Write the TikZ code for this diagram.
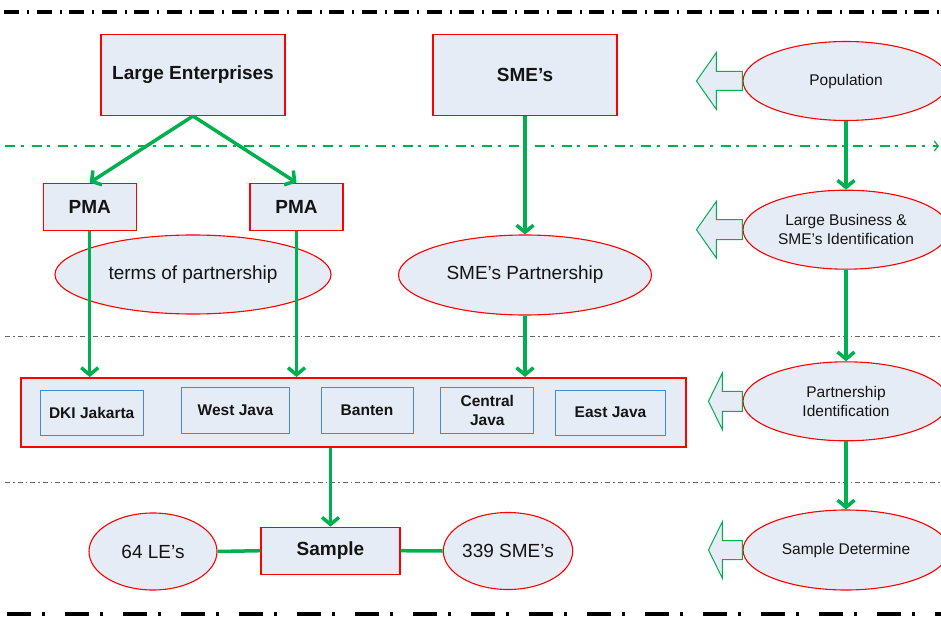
\documentclass[tikz,border=0pt]{standalone}
\usepackage{fontspec}
\setmainfont{Liberation Sans}
\usetikzlibrary{arrows.meta,shapes.geometric,calc}
\definecolor{fillc}{RGB}{230,236,245}
\definecolor{greenc}{RGB}{0,176,80}
\definecolor{bluec}{RGB}{70,140,205}
\definecolor{grayc}{RGB}{100,100,100}
\definecolor{txtc}{RGB}{20,20,20}
\begin{document}
\begin{tikzpicture}[x=1pt,y=-1pt,
 redbox/.style={draw=red, line width=1.1pt, fill=fillc, inner sep=0pt, font=\fontsize{19}{22}\selectfont\bfseries, text=txtc},
 bluebox/.style={draw=bluec, line width=1pt, fill=fillc, inner sep=0pt, align=center, font=\fontsize{15.5}{19}\selectfont\bfseries, text=txtc},
 oval/.style={ellipse, draw=red, line width=1.1pt, fill=fillc, inner sep=0pt, align=center, font=\fontsize{19}{22}\selectfont, text=txtc},
 roval/.style={oval, minimum width=206pt, minimum height=79pt, font=\fontsize{15.5}{18.5}\selectfont},
 flow/.style={draw=greenc, line width=3.5pt, -{Straight Barb[length=7pt,width=17pt]}},
 link/.style={draw=greenc, line width=3.5pt},
 barrow/.style={draw=greenc, line width=1pt, fill=fillc, line join=miter},
]
\useasboundingbox (0,0) rectangle (941,617);
\clip (0,0) rectangle (941,617);

% separator lines
\draw[line width=4pt, dash pattern=on 15pt off 8pt on 2pt off 7.5pt] (4,12) -- (941,12);
\draw[line width=4pt, dash pattern=on 24pt off 11pt on 3pt off 20pt] (7,614) -- (941,614);
\draw[greenc, line width=2pt, dash pattern=on 10pt off 5.5pt on 3pt off 8pt,
      -{Straight Barb[length=4pt,width=10pt,line width=1.2pt]}] (5,146) -- (939,146);
\draw[grayc, line width=1pt, dash pattern=on 5pt off 3pt on 1.5pt off 3pt] (5,336) -- (941,336);
\draw[grayc, line width=1pt, dash pattern=on 5pt off 3pt on 1.5pt off 3pt] (5,482) -- (941,482);

% left / middle column
\node[redbox, minimum width=184pt, minimum height=81pt] (le) at (193,75) {Large Enterprises};
\node[redbox, minimum width=184pt, minimum height=81pt] (sme) at (525,75) {SME’s};
\node[redbox, minimum width=93pt, minimum height=47pt] (pma1) at (89.7,206.7) {PMA};
\node[redbox, minimum width=93pt, minimum height=47pt] (pma2) at (296.5,206.7) {PMA};
\node[oval, minimum width=276pt, minimum height=79pt] (terms) at (193,274.5) {terms of partnership};
\node[oval, minimum width=253pt, minimum height=80pt] (smep) at (525,275) {SME’s Partnership};

\node[draw=red, line width=2pt, fill=fillc, minimum width=665pt, minimum height=69pt, inner sep=0pt] (region) at (353.5,412.5) {};
\node[bluebox, minimum width=103pt, minimum height=45pt] (dki) at (91.7,412.5) {DKI Jakarta};
\node[bluebox, minimum width=108pt, minimum height=46pt] (west) at (235.5,410.3) {West Java};
\node[bluebox, minimum width=92pt, minimum height=46pt] (banten) at (367,410.3) {Banten};
\node[bluebox, minimum width=93pt, minimum height=46pt] (central) at (487.3,410.3) {Central\\Java};
\node[bluebox, minimum width=110pt, minimum height=45pt] (east) at (610.5,412.5) {East Java};

\node[redbox, minimum width=139pt, minimum height=47pt] (sample) at (330.5,550.7) {Sample};
\node[oval, minimum width=128pt, minimum height=77pt] (le64) at (153,551.5) {64 LE’s};
\node[oval, minimum width=124pt, minimum height=77pt] (sme339) at (508,551) {339 SME’s};

% connectors
\draw[flow] (le.south) -- (pma1.north);
\draw[flow] (le.south) -- (pma2.north);
\draw[flow] (pma1.south) -- (pma1.south |- region.north);
\draw[flow] (pma2.south) -- (pma2.south |- region.north);
\draw[flow] (sme.south) -- (smep.north);
\draw[flow] (smep.south) -- (smep.south |- region.north);
\draw[flow] (sample.north |- region.south) -- (sample.north);
\draw[link] (le64.east) -- (sample.west);
\draw[link] (sample.east) -- (sme339.west);

% right column
\node[roval] (pop) at (846,81) {Population};
\node[roval] (lb) at (846,229.7) {Large Business \&\\SME’s Identification};
\node[roval] (pi) at (846,401.3) {Partnership\\Identification};
\node[roval, minimum height=80pt] (sd) at (846,550) {Sample Determine};

\draw[flow] (pop.south) -- (lb.north);
\draw[flow] (lb.south) -- (pi.north);
\draw[flow] (pi.south) -- (sd.north);

\draw[barrow] ($(pop.west)+(0,-9.5)$) -- ++(-26,0) -- ++(0,-19) -- ++(-20,28.5) -- ++(20,28.5) -- ++(0,-19) -- ++(26,0) -- cycle;
\draw[barrow] ($(lb.west)+(0,-10)$) -- ++(-26,0) -- ++(0,-18.5) -- ++(-20,28.5) -- ++(20,28.5) -- ++(0,-18.5) -- ++(26,0) -- cycle;
\draw[barrow] ($(pi.west)+(0,-10)$) -- ++(-20,0) -- ++(0,-18.5) -- ++(-14,28.5) -- ++(14,28.5) -- ++(0,-18.5) -- ++(20,0) -- cycle;
\draw[barrow] ($(sd.west)+(0,-9.5)$) -- ++(-20,0) -- ++(0,-19) -- ++(-14,28.5) -- ++(14,28.5) -- ++(0,-19) -- ++(20,0) -- cycle;
\end{tikzpicture}
\end{document}
